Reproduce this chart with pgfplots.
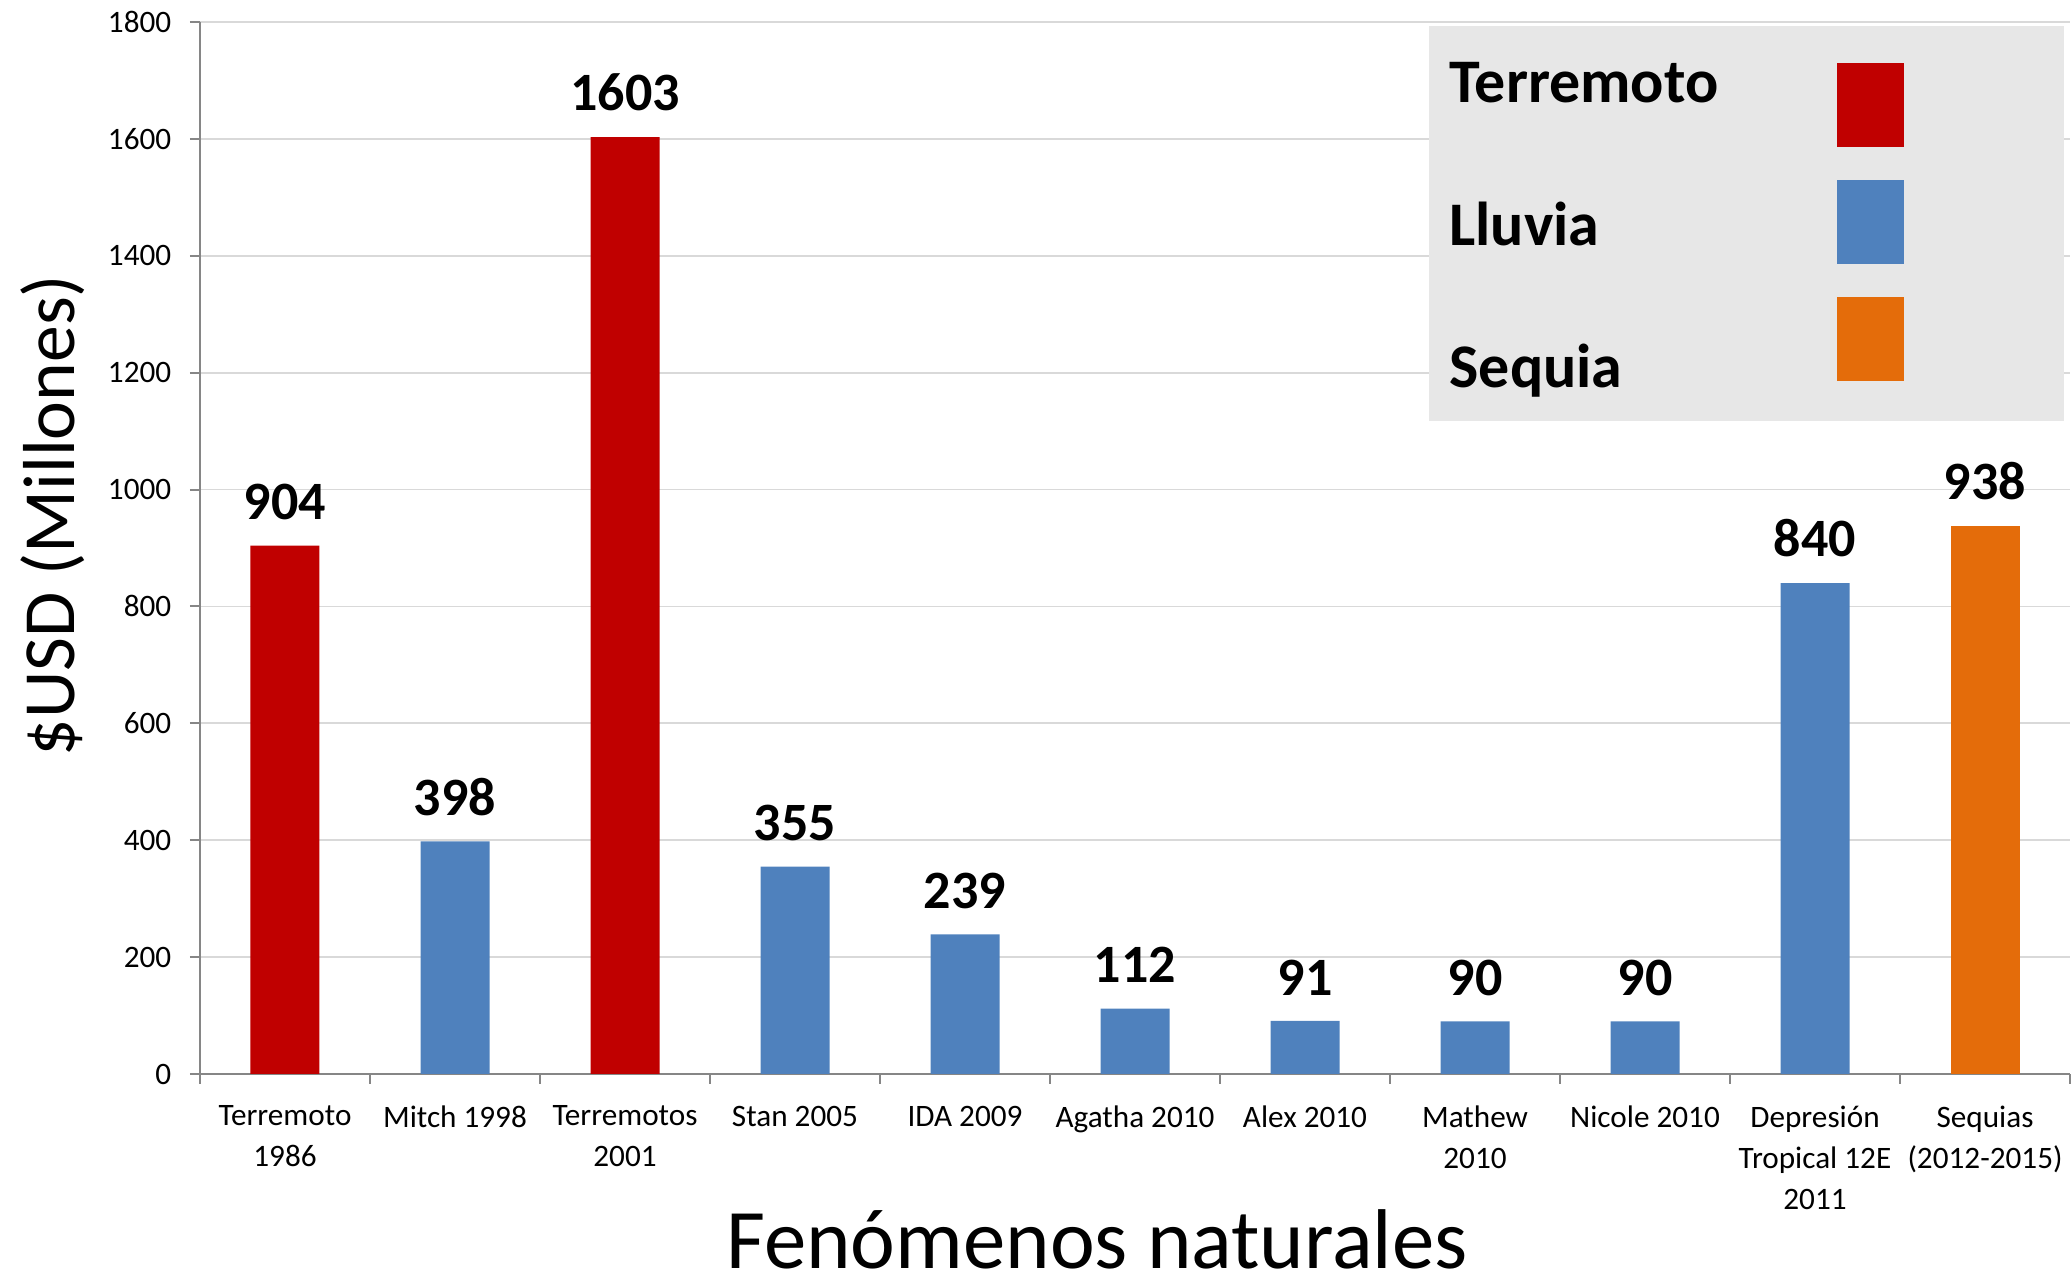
\documentclass[border=0pt]{standalone}
\usepackage{fontspec}
\setmainfont{Carlito}
\usepackage{pgfplots}
\pgfplotsset{compat=1.18}
\definecolor{cred}{HTML}{C00000}
\definecolor{cblue}{HTML}{4F81BD}
\definecolor{corange}{HTML}{E46C0A}
\definecolor{legbg}{HTML}{E7E7E7}
\definecolor{gridc}{HTML}{D9D9D9}
\definecolor{axc}{HTML}{868686}
\pgfplotsset{mylegend/.style={legend image code/.code={\path[##1, draw=none] (0pt,0pt) rectangle (16.75pt,21pt); \path[draw=none, fill=none] (16.75pt,0pt) -- (51.7pt,0pt);}}}
\begin{document}
\begin{tikzpicture}
\begin{axis}[
  name=ax,
  scale only axis,
  width=467.5pt, height=263pt,
  xmin=-0.5, xmax=10.5, ymin=0, ymax=1800,
  ytick={0,200,...,1800},
  xtick={-0.5,0.5,...,10.5},
  xticklabels={},
  extra x ticks={0,1,...,10},
  extra x tick labels={Terremoto\\1986, Mitch 1998, Terremotos\\2001, Stan 2005, IDA 2009, Agatha 2010, Alex 2010, Mathew\\2010, Nicole 2010, Depresión\\Tropical 12E\\2011, Sequias\\(2012-2015)},
  extra x tick style={major tick length=0pt, grid=none, xticklabel style={align=center, anchor=north, inner sep=0pt, yshift=-7.75pt, font=\fontsize{7.8}{10.25}\selectfont}},
  axis x line*=bottom, axis y line*=left,
  axis line style={draw=axc, line width=0.5pt, -},
  tick align=outside, major tick length=2.5pt,
  tick style={axc, line width=0.5pt},
  ymajorgrids, grid style={gridc, line width=0.45pt},
  yticklabel style={font=\fontsize{7.8}{9}\selectfont, anchor=east, inner sep=0pt, xshift=-4.5pt},
  /pgf/number format/assume math mode=true,
  /pgf/number format/set thousands separator={},
  ybar, bar width=17.25pt, bar shift=0pt,
  nodes near coords,
  nodes near coords style={font=\fontsize{13.5}{16}\bfseries\selectfont, anchor=south, inner sep=0pt, yshift=6.25pt, text=black},
  ylabel={\$USD (Millones)},
  ylabel style={at={(axis description cs:-0.0786,0.531)}, anchor=center, font=\fontsize{18.4}{22}\selectfont},
  xlabel={Fenómenos naturales},
  xlabel style={at={(axis description cs:0.4797,0)}, anchor=base, yshift=-48.6pt, font=\fontsize{21.2}{25}\selectfont},
  legend style={at={(axis description cs:1,1)}, anchor=north east, xshift=-1.25pt, yshift=-0.75pt, fill=legbg, draw=none, inner xsep=5.2pt, inner ysep=9.2pt, row sep=7.6pt, column sep=29.5pt, font=\fontsize{15.5}{18}\bfseries\selectfont, nodes={inner sep=0pt}},
  legend plot pos=right, legend cell align=left,
  clip=false,
]
\addplot[fill=cred, draw=none, mylegend] coordinates {(0,904) (2,1603)};
\addlegendentry{\raisebox{10.3pt}[0pt][0pt]{Terremoto}}
\addplot[fill=cblue, draw=none, mylegend] coordinates {(1,398) (3,355) (4,239) (5,112) (6,91) (7,90) (8,90) (9,840)};
\addlegendentry{\raisebox{3.8pt}[0pt][0pt]{Lluvia}}
\addplot[fill=corange, draw=none, mylegend] coordinates {(10,938)};
\addlegendentry{\raisebox{-2.3pt}[0pt][0pt]{Sequia}}
\end{axis}
\pgfresetboundingbox
\path[use as bounding box] ([shift={(-50pt,-51.25pt)}]ax.south west) rectangle ([shift={(0.5pt,5.5pt)}]ax.north east);
\end{tikzpicture}
\end{document}
